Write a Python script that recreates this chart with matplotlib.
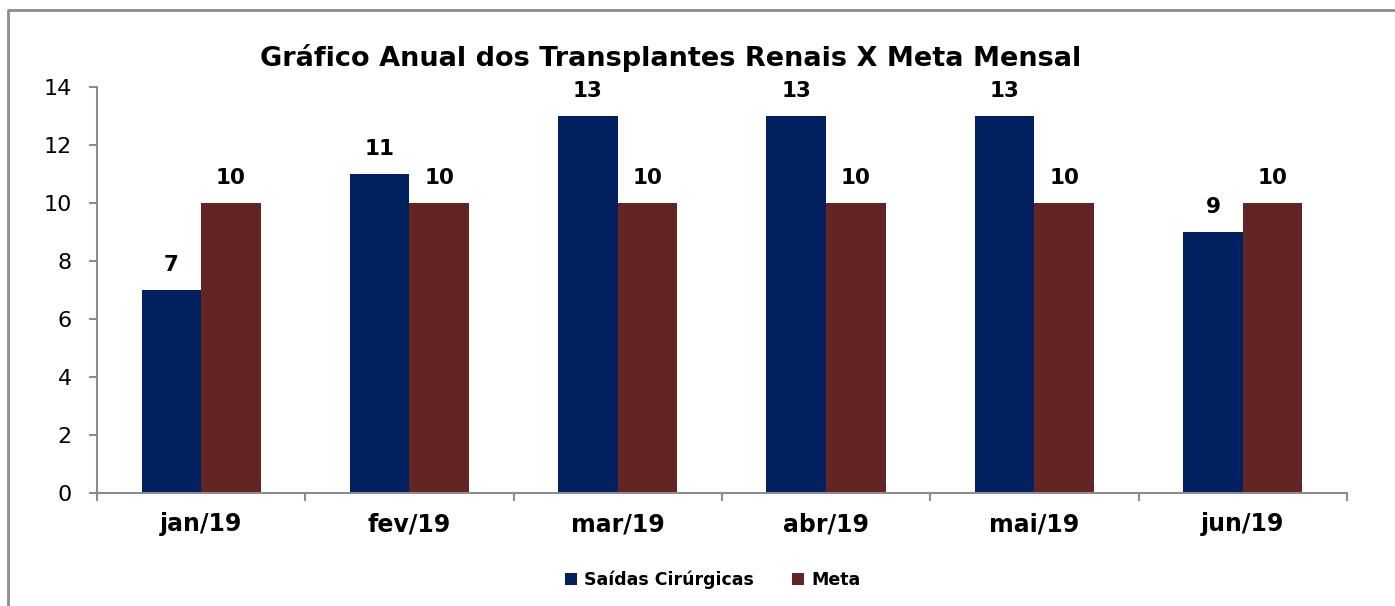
import matplotlib
matplotlib.use("Agg")
import matplotlib.pyplot as plt
import numpy as np
from matplotlib.lines import Line2D

months = ["jan/19", "fev/19", "mar/19", "abr/19", "mai/19", "jun/19"]
saidas = [7, 11, 13, 13, 13, 9]
meta = [10, 10, 10, 10, 10, 10]

BLUE = "#00205f"
RED = "#632524"
GRAY = "#8c8c8c"

plt.rcParams["font.family"] = ["DejaVu Sans"]

fig = plt.figure(figsize=(13.95, 6.06), dpi=100)
ax = fig.add_axes([0.0695, 0.1865, 0.896, 0.67])

x = np.arange(len(months))
w = 0.286
b1 = ax.bar(x - w / 2, saidas, w, color=BLUE, label="Saídas Cirúrgicas")
b2 = ax.bar(x + w / 2, meta, w, color=RED, label="Meta")

for bars in (b1, b2):
    for r in bars:
        ax.annotate(f"{r.get_height():.0f}", (r.get_x() + r.get_width() / 2, r.get_height()),
                    xytext=(0, 11), textcoords="offset points", ha="center", va="bottom",
                    fontsize=15.5, fontweight="bold")

ax.set_xlim(-0.5, len(months) - 0.5)
ax.set_ylim(0, 14)
ax.set_yticks(range(0, 15, 2))
ax.set_xticks(x)
ax.set_xticklabels(months, fontsize=17, fontweight="bold")
ax.set_xticks(np.arange(-0.5, len(months)), minor=True)
ax.tick_params(axis="x", which="major", length=0, pad=14)
ax.tick_params(axis="x", which="minor", length=6, width=1.5, color=GRAY, direction="out")
ax.tick_params(axis="y", length=6, width=1.5, color=GRAY, labelsize=16, pad=12)

for s in ("top", "right"):
    ax.spines[s].set_visible(False)
for s in ("left", "bottom"):
    ax.spines[s].set_color(GRAY)
    ax.spines[s].set_linewidth(1.5)

fig.text(0.481, 0.905, "Gráfico Anual dos Transplantes Renais X Meta Mensal",
         ha="center", va="center", fontsize=19.5, fontweight="bold")

ax.legend(loc="center", bbox_to_anchor=(0.511, 0.043), bbox_transform=fig.transFigure,
          ncol=2, frameon=False, handlelength=0.7, handleheight=0.7, columnspacing=2.2,
          handletextpad=0.4, prop={"weight": "bold", "size": 12.5})

# outer chart frame (only top and left edges visible)
fig.add_artist(Line2D([0.006, 0.006, 1.0], [0.0, 0.984, 0.984], transform=fig.transFigure,
                      color=GRAY, lw=2))

fig.savefig("out.png", dpi=100)
